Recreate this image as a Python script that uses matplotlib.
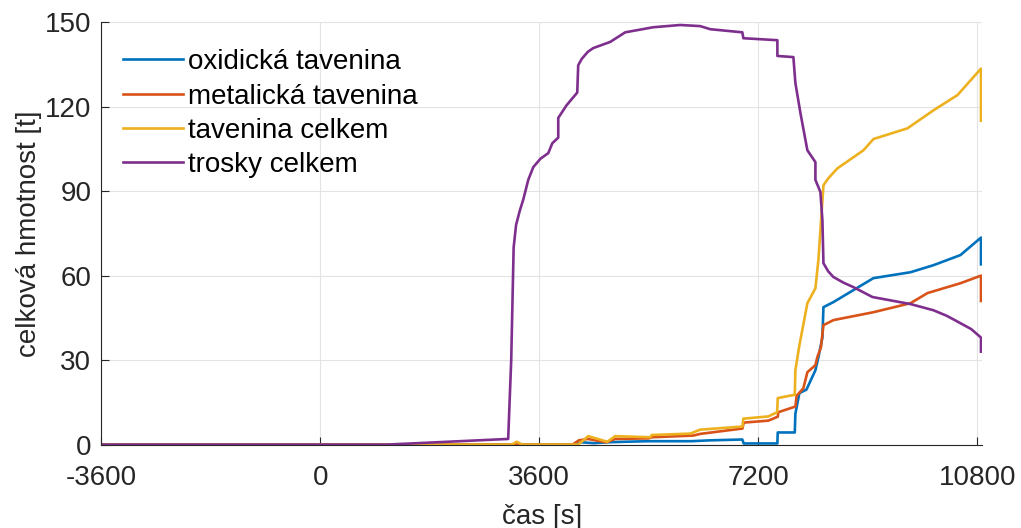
import matplotlib
matplotlib.use('Agg')
import matplotlib.pyplot as plt

# values (time in s, mass in t)
t_oxid = [-3600, 4150, 4300, 4500, 4700, 5000, 5400, 6100, 6400, 6938, 6960, 7514, 7520,
          7800, 7810, 7876, 7991, 8139, 8188, 8254, 8271, 8435, 9092, 9701, 10079, 10523,
          10860, 10860]
m_oxid = [0, 0, 0.8, 0.5, 0.8, 1, 1.2, 1.2, 1.5, 1.8, 0.4, 0.4, 4.3,
          4.3, 11, 18.3, 19.5, 26.4, 31, 38, 48.8, 50.6, 59.1, 61.2, 63.7, 67.3,
          73.5, 64]

t_metal = [-3600, 4150, 4250, 4400, 4700, 4850, 5400, 5450, 6132, 6247, 6940, 6960, 7366,
           7520, 7530, 7810, 7830, 7941, 8007, 8139, 8170, 8230, 8271, 8435, 9092, 9701,
           9981, 10523, 10860, 10860]
m_metal = [0, 0, 1.5, 2.0, 0.8, 2.0, 2.2, 2.6, 3.2, 3.8, 5.7, 7.8, 8.5,
           9.9, 11.5, 13.5, 17.3, 20, 25.7, 28.2, 31, 34.6, 42.4, 44.2, 47, 50.2,
           53.8, 57.3, 60, 51]

t_total = [-3600, 3150, 3230, 3320, 4241, 4406, 4718, 4850, 5425, 5450, 6083, 6247, 6940,
           6955, 7366, 7510, 7520, 7800, 7810, 7876, 8007, 8139, 8188, 8221, 8271, 8353,
           8501, 8928, 9092, 9652, 10079, 10473, 10860, 10860]
m_total = [0, 0, 1, 0, 0, 3, 1, 3, 2.6, 3.4, 3.9, 5.3, 6.4,
           9.2, 10, 11.5, 16.5, 17.7, 26.4, 35.3, 50.2, 55.5, 65.5, 76, 92.1, 94.6,
           98.1, 104.5, 108.5, 112.3, 118.7, 124.1, 133.5, 115]

t_debris = [-3600, 1100, 3090, 3140, 3180, 3220, 3280, 3338, 3420, 3502, 3620, 3749, 3815,
            3913, 3913, 4050, 4225, 4241, 4300, 4400, 4488, 4768, 5014, 5474, 5918, 6247,
            6412, 6938, 6955, 7514, 7514, 7777, 7810, 7893, 8007, 8139, 8139, 8221, 8254,
            8271, 8350, 8435, 8600, 8764, 9076, 9701, 10079, 10300, 10523, 10700, 10860, 10860]
m_debris = [0, 0, 2, 30, 70, 78, 83, 87, 94, 98.5, 101.5, 103.5, 107,
            109, 116, 120.5, 125, 134.7, 137, 139.5, 140.8, 143, 146.4, 148.2, 149, 148.6,
            147.5, 146.4, 144.3, 143.6, 138, 137.6, 128.4, 117.7, 104.5, 100.3, 94, 89.7, 79.7,
            64.4, 61.5, 59.5, 57.5, 55.9, 52.4, 49.9, 47.7, 45.7, 43.1, 41, 38, 33]

labels = ['oxidická tavenina', 'metalická tavenina', 'tavenina celkem', 'trosky celkem']
colors = ['#0072BD', '#D95319', '#EDB120', '#7E2F8E']
xticks = [-3600, 0, 3600, 7200, 10800]
yticks = [0, 30, 60, 90, 120, 150]

plt.rcParams['font.family'] = ['Liberation Sans', 'DejaVu Sans']
plt.rcParams['axes.unicode_minus'] = False
dark = '#262626'

fig = plt.figure(figsize=(10.21, 5.28), dpi=100)
ax = fig.add_axes([0.099, 0.158, 0.863, 0.8])

series = [(t_oxid, m_oxid), (t_metal, m_metal), (t_total, m_total), (t_debris, m_debris)]
for (t, m), lab, c in zip(series, labels, colors):
    ax.plot(t, m, color=c, lw=1.9, label=lab)

ax.set_xlim(-3600, 10880)
ax.set_ylim(0, 150)
ax.set_xticks(xticks)
ax.set_yticks(yticks)
ax.grid(True, color='#e3e3e3', lw=0.8)
ax.set_axisbelow(True)
for s in ['top', 'right']:
    ax.spines[s].set_visible(False)
for s in ['left', 'bottom']:
    ax.spines[s].set_color(dark)
    ax.spines[s].set_linewidth(0.8)
ax.tick_params(direction='in', length=6, width=0.8, colors=dark, labelsize=20)
ax.tick_params(axis='x', pad=15)
ax.tick_params(axis='y', pad=7)
ax.set_xlabel('čas [s]', fontsize=20, color=dark, labelpad=9)
ax.set_ylabel('celková hmotnost [t]', fontsize=20, color=dark, labelpad=2)

ax.legend(loc='upper left', frameon=False, fontsize=20, handlelength=2.15,
          handletextpad=0.2, labelspacing=0.3, bbox_to_anchor=(0.025, 0.936),
          borderaxespad=0, borderpad=0)

fig.savefig('out.png', dpi=100)
